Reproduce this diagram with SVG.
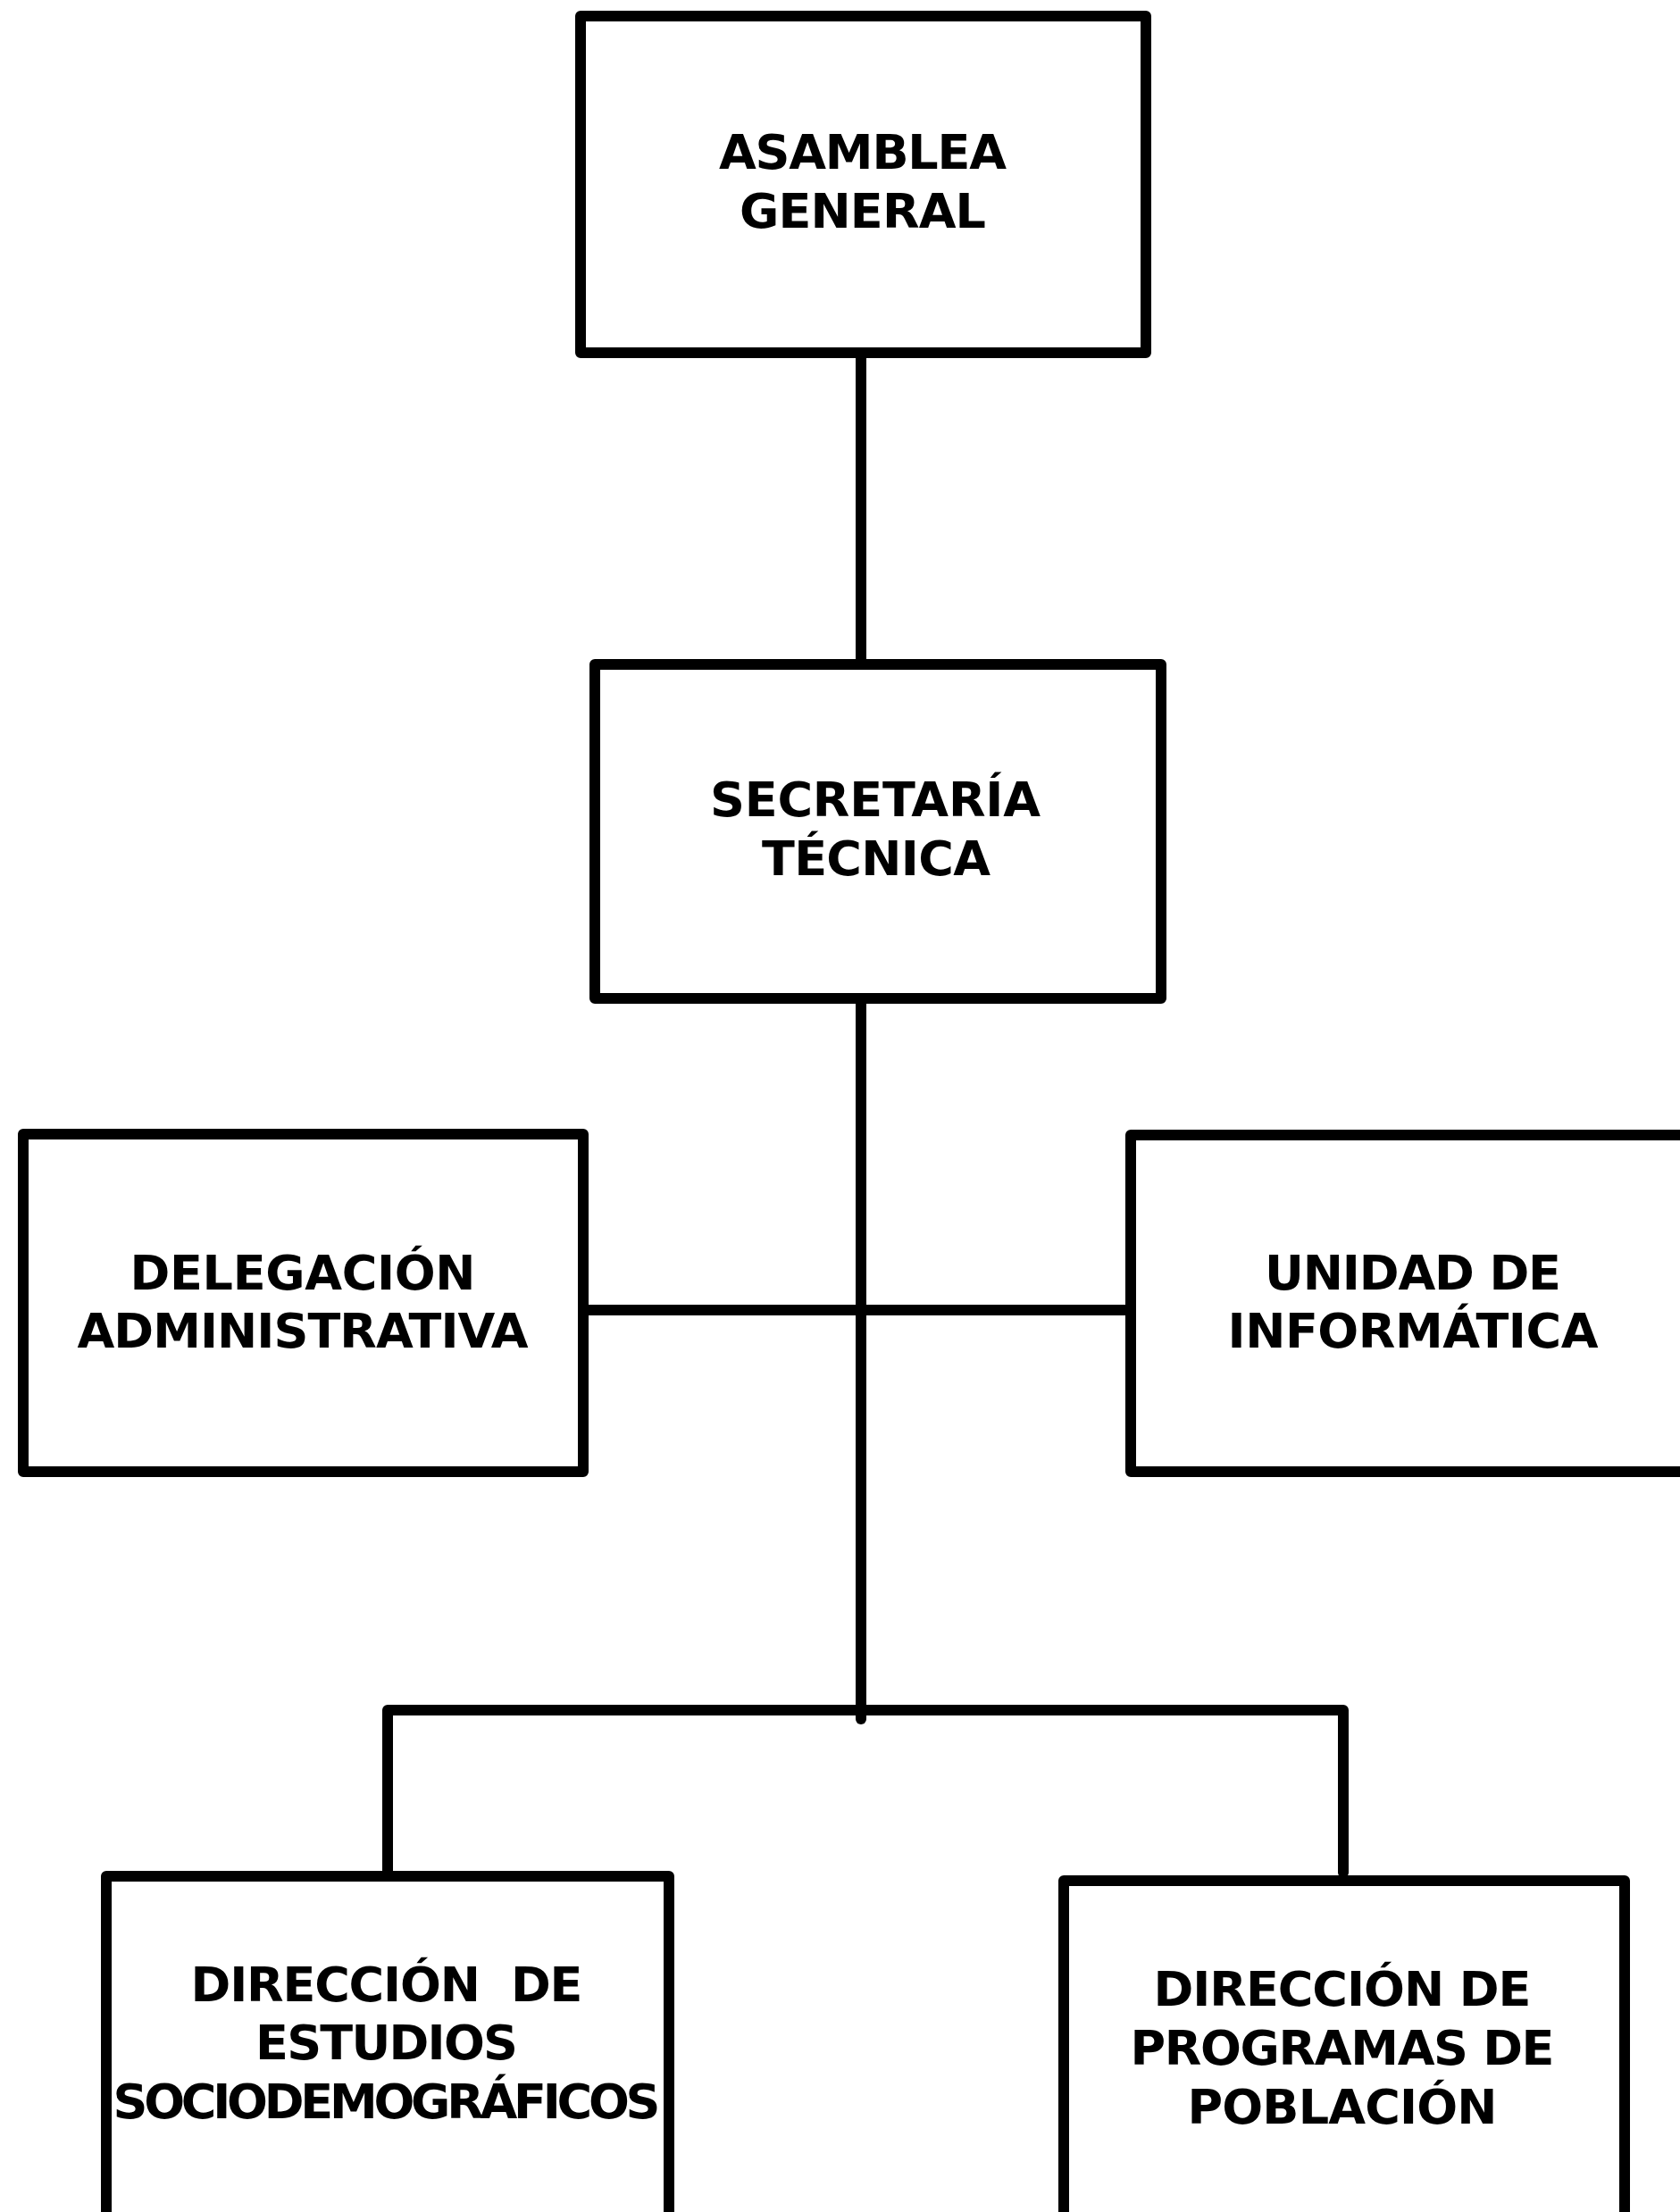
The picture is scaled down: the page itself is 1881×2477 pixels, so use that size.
<svg xmlns="http://www.w3.org/2000/svg" width="1881" height="2477" viewBox="0 0 1881 2477">
<style>
.box{fill:#fff;stroke:#000;stroke-width:12;stroke-linejoin:round}
.con{fill:none;stroke:#000;stroke-width:12;stroke-linecap:round;stroke-linejoin:round}
.t{font-family:"DejaVu Sans",sans-serif;font-weight:bold;font-size:54px;fill:#000;text-anchor:middle}
</style>
<rect width="1881" height="2477" fill="#fff"/>
<g id="connectors">
<path class="con" d="M964 395 V744"/>
<path class="con" d="M964 1118 V1925"/>
<path class="con" d="M653 1467 H1266"/>
<path class="con" d="M434 2101 V1915 H1504 V2097"/>
</g>
<g id="asamblea">
<rect class="box" x="650" y="18" width="633" height="377"/>
<text class="t" x="966" y="189" textLength="322">ASAMBLEA</text>
<text class="t" x="966" y="255" textLength="276">GENERAL</text>
</g>
<g id="secretaria">
<rect class="box" x="666" y="744" width="634" height="374"/>
<text class="t" x="980" y="914" textLength="370">SECRETARÍA</text>
<text class="t" x="981" y="980" textLength="256">TÉCNICA</text>
</g>
<g id="delegacion">
<rect class="box" x="26" y="1270" width="627" height="378"/>
<text class="t" x="339" y="1444" textLength="387">DELEGACIÓN</text>
<text class="t" x="339" y="1509" textLength="505">ADMINISTRATIVA</text>
</g>
<g id="unidad">
<rect class="box" x="1266" y="1271" width="640" height="377"/>
<text class="t" x="1582" y="1444" textLength="332">UNIDAD DE</text>
<text class="t" x="1582" y="1509" textLength="415">INFORMÁTICA</text>
</g>
<g id="dir-estudios">
<rect class="box" x="119" y="2101" width="630" height="420"/>
<text class="t" x="433" y="2241" textLength="439" xml:space="preserve">DIRECCIÓN  DE</text>
<text class="t" x="433" y="2306" textLength="294">ESTUDIOS</text>
<text class="t" x="433" y="2372" textLength="613">SOCIODEMOGRÁFICOS</text>
</g>
<g id="dir-programas">
<rect class="box" x="1191" y="2106" width="628" height="420"/>
<text class="t" x="1503" y="2246" textLength="423">DIRECCIÓN DE</text>
<text class="t" x="1503" y="2312" textLength="475">PROGRAMAS DE</text>
<text class="t" x="1503" y="2378" textLength="347">POBLACIÓN</text>
</g>
</svg>
